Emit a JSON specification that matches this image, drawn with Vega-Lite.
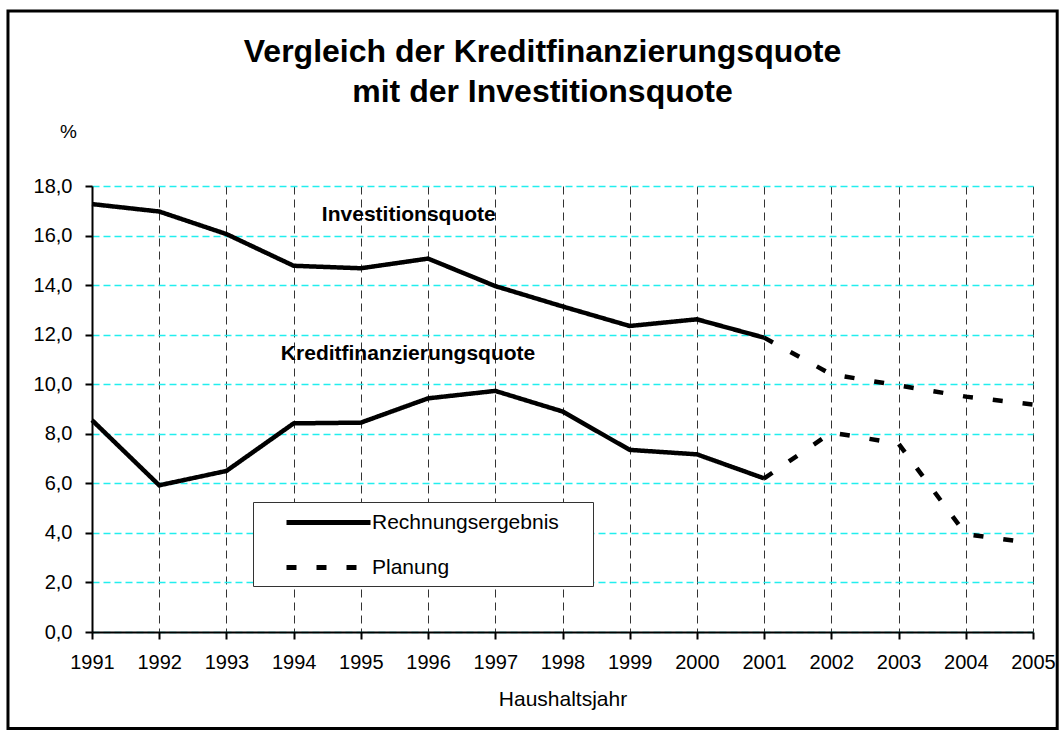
{
  "$schema": "https://vega.github.io/schema/vega-lite/v6.json",
  "autosize": "none",
  "width": 941,
  "height": 446,
  "padding": {"left": 92, "top": 186, "right": 30, "bottom": 104},
  "background": "white",
  "config": {
    "font": "Liberation Sans",
    "view": {"stroke": null}
  },
  "title": {
    "text": ["Vergleich der Kreditfinanzierungsquote", "mit der Investitionsquote"],
    "fontSize": 32,
    "fontWeight": "bold",
    "font": "Liberation Sans",
    "color": "black",
    "anchor": "middle",
    "frame": "group",
    "baseline": "bottom",
    "lineHeight": 40,
    "offset": -131,
    "dx": -20
  },
  "datasets": {
    "quoten": [
      {"Jahr": 1991, "Wert": 17.27, "Reihe": "Investitionsquote", "Art": "Rechnungsergebnis"},
      {"Jahr": 1992, "Wert": 16.97, "Reihe": "Investitionsquote", "Art": "Rechnungsergebnis"},
      {"Jahr": 1993, "Wert": 16.06, "Reihe": "Investitionsquote", "Art": "Rechnungsergebnis"},
      {"Jahr": 1994, "Wert": 14.78, "Reihe": "Investitionsquote", "Art": "Rechnungsergebnis"},
      {"Jahr": 1995, "Wert": 14.68, "Reihe": "Investitionsquote", "Art": "Rechnungsergebnis"},
      {"Jahr": 1996, "Wert": 15.07, "Reihe": "Investitionsquote", "Art": "Rechnungsergebnis"},
      {"Jahr": 1997, "Wert": 13.96, "Reihe": "Investitionsquote", "Art": "Rechnungsergebnis"},
      {"Jahr": 1998, "Wert": 13.14, "Reihe": "Investitionsquote", "Art": "Rechnungsergebnis"},
      {"Jahr": 1999, "Wert": 12.35, "Reihe": "Investitionsquote", "Art": "Rechnungsergebnis"},
      {"Jahr": 2000, "Wert": 12.62, "Reihe": "Investitionsquote", "Art": "Rechnungsergebnis"},
      {"Jahr": 2001, "Wert": 11.88, "Reihe": "Investitionsquote", "Art": "Rechnungsergebnis"},
      {"Jahr": 2001, "Wert": 11.88, "Reihe": "Investitionsquote", "Art": "Planung"},
      {"Jahr": 2002, "Wert": 10.4, "Reihe": "Investitionsquote", "Art": "Planung"},
      {"Jahr": 2003, "Wert": 9.95, "Reihe": "Investitionsquote", "Art": "Planung"},
      {"Jahr": 2004, "Wert": 9.5, "Reihe": "Investitionsquote", "Art": "Planung"},
      {"Jahr": 2005, "Wert": 9.18, "Reihe": "Investitionsquote", "Art": "Planung"},
      {"Jahr": 1991, "Wert": 8.55, "Reihe": "Kreditfinanzierungsquote", "Art": "Rechnungsergebnis"},
      {"Jahr": 1992, "Wert": 5.92, "Reihe": "Kreditfinanzierungsquote", "Art": "Rechnungsergebnis"},
      {"Jahr": 1993, "Wert": 6.5, "Reihe": "Kreditfinanzierungsquote", "Art": "Rechnungsergebnis"},
      {"Jahr": 1994, "Wert": 8.42, "Reihe": "Kreditfinanzierungsquote", "Art": "Rechnungsergebnis"},
      {"Jahr": 1995, "Wert": 8.45, "Reihe": "Kreditfinanzierungsquote", "Art": "Rechnungsergebnis"},
      {"Jahr": 1996, "Wert": 9.43, "Reihe": "Kreditfinanzierungsquote", "Art": "Rechnungsergebnis"},
      {"Jahr": 1997, "Wert": 9.73, "Reihe": "Kreditfinanzierungsquote", "Art": "Rechnungsergebnis"},
      {"Jahr": 1998, "Wert": 8.9, "Reihe": "Kreditfinanzierungsquote", "Art": "Rechnungsergebnis"},
      {"Jahr": 1999, "Wert": 7.35, "Reihe": "Kreditfinanzierungsquote", "Art": "Rechnungsergebnis"},
      {"Jahr": 2000, "Wert": 7.17, "Reihe": "Kreditfinanzierungsquote", "Art": "Rechnungsergebnis"},
      {"Jahr": 2001, "Wert": 6.2, "Reihe": "Kreditfinanzierungsquote", "Art": "Rechnungsergebnis"},
      {"Jahr": 2001, "Wert": 6.2, "Reihe": "Kreditfinanzierungsquote", "Art": "Planung"},
      {"Jahr": 2002, "Wert": 8.05, "Reihe": "Kreditfinanzierungsquote", "Art": "Planung"},
      {"Jahr": 2003, "Wert": 7.6, "Reihe": "Kreditfinanzierungsquote", "Art": "Planung"},
      {"Jahr": 2004, "Wert": 3.95, "Reihe": "Kreditfinanzierungsquote", "Art": "Planung"},
      {"Jahr": 2005, "Wert": 3.58, "Reihe": "Kreditfinanzierungsquote", "Art": "Planung"}
    ],
    "beschriftung": [
      {"Text": "Investitionsquote", "Jahr": 1994.42, "Wert": 16.6},
      {"Text": "Kreditfinanzierungsquote", "Jahr": 1993.81, "Wert": 10.96}
    ],
    "rahmen": [
      {"x1": 1989.75, "x2": 2005.36, "y1": 25.06, "y2": -3.89}
    ]
  },
  "layer": [
    {
      "data": {"name": "quoten"},
      "mark": {"type": "line", "color": "black", "strokeWidth": 4.5, "strokeJoin": "miter"},
      "encoding": {
        "x": {
          "field": "Jahr",
          "type": "quantitative",
          "scale": {"domain": [1991, 2005], "nice": false, "zero": false},
          "axis": {
            "title": "Haushaltsjahr",
            "values": [1991, 1992, 1993, 1994, 1995, 1996, 1997, 1998, 1999, 2000, 2001, 2002, 2003, 2004, 2005],
            "format": "d",
            "labelFontSize": 20,
            "labelColor": "black",
            "labelPadding": 13,
            "labelFlush": false,
            "labelOverlap": false,
            "tickSize": 7,
            "tickWidth": 2,
            "tickColor": "black",
            "domainColor": "black",
            "domainWidth": 2,
            "grid": true,
            "gridColor": "#333333",
            "gridDash": [8, 5],
            "gridWidth": 1,
            "titleFontSize": 21,
            "titleFontWeight": "normal",
            "titleColor": "black",
            "titleY": 56,
            "titleBaseline": "top"
          }
        },
        "y": {
          "field": "Wert",
          "type": "quantitative",
          "scale": {"domain": [0, 18], "nice": false},
          "axis": {
            "title": "%",
            "titleAngle": 0,
            "titleX": -24,
            "titleY": -49,
            "titleAlign": "center",
            "titleBaseline": "alphabetic",
            "titleFontSize": 19,
            "titleFontWeight": "normal",
            "titleColor": "black",
            "values": [0, 2, 4, 6, 8, 10, 12, 14, 16, 18],
            "labelExpr": "replace(format(datum.value, '.1f'), '.', ',')",
            "labelFontSize": 20,
            "labelColor": "black",
            "labelPadding": 13,
            "labelFlush": false,
            "tickSize": 7,
            "tickWidth": 2,
            "tickColor": "black",
            "domainColor": "black",
            "domainWidth": 2,
            "grid": true,
            "gridColor": "#22EEEE",
            "gridDash": [7, 4],
            "gridWidth": 1.5
          }
        },
        "detail": {"field": "Reihe"},
        "strokeDash": {
          "field": "Art",
          "type": "nominal",
          "scale": {"domain": ["Rechnungsergebnis", "Planung"], "range": [[1, 0], [10, 20]]},
          "legend": {
            "title": null,
            "orient": "none",
            "legendX": 161,
            "legendY": 316,
            "strokeColor": "#333333",
            "fillColor": "white",
            "padding": 8,
            "symbolType": "M1.3,0H9.7",
            "symbolSize": 400,
            "symbolStrokeWidth": 5,
            "symbolStrokeColor": "black",
            "labelFontSize": 21,
            "labelColor": "black",
            "labelOffset": 86,
            "labelLimit": 400,
            "labelExpr": "datum.label + '\u2002\u2800'",
            "rowPadding": 22
          }
        }
      }
    },
    {
      "data": {"name": "beschriftung"},
      "mark": {"type": "text", "align": "left", "baseline": "alphabetic", "fontWeight": "bold", "fontSize": 21, "color": "black"},
      "encoding": {
        "x": {"field": "Jahr", "type": "quantitative"},
        "y": {"field": "Wert", "type": "quantitative"},
        "text": {"field": "Text"}
      }
    },
    {
      "data": {"name": "rahmen"},
      "mark": {"type": "rect", "fill": null, "fillOpacity": 0, "stroke": "black", "strokeWidth": 3},
      "encoding": {
        "x": {"field": "x1", "type": "quantitative"},
        "x2": {"field": "x2"},
        "y": {"field": "y1", "type": "quantitative"},
        "y2": {"field": "y2"}
      }
    }
  ]
}
